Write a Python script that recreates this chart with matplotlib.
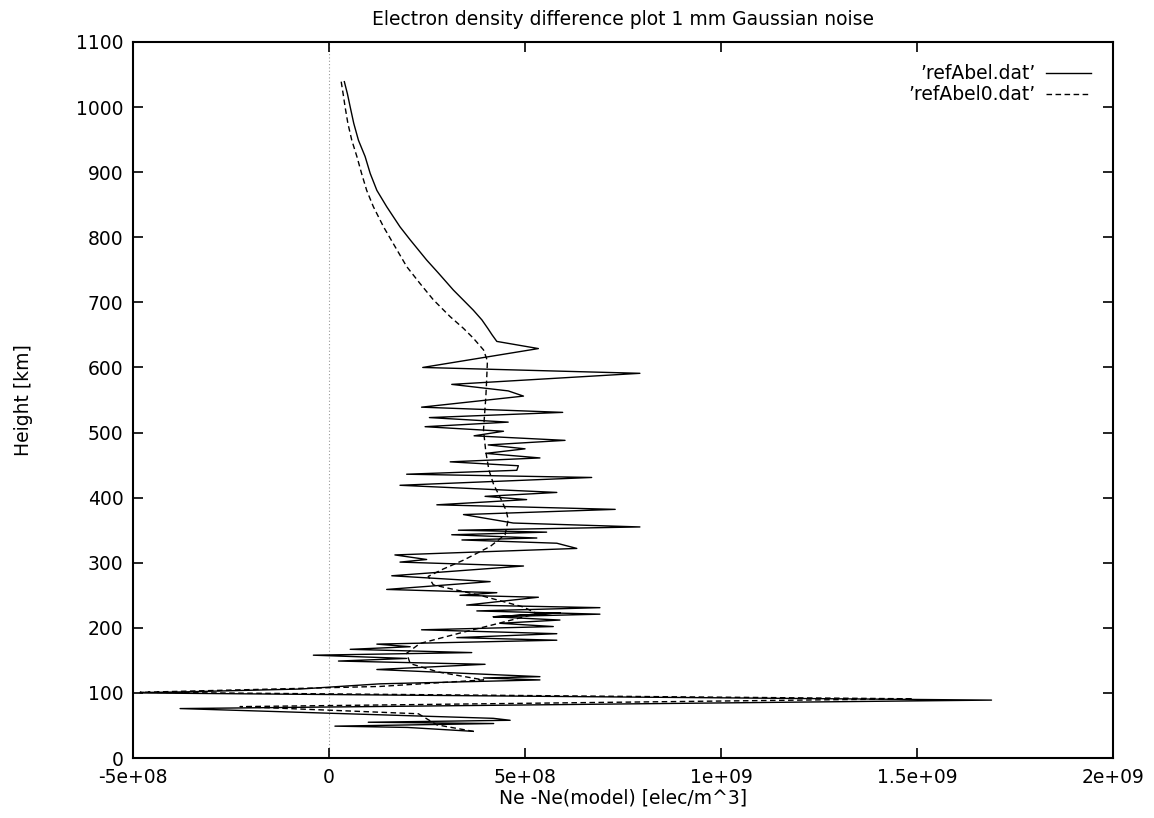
import numpy as np
import matplotlib.pyplot as plt

plt.rcParams['font.family'] = ['DejaVu Sans']

# refAbel.dat : Ne - Ne(model) [1e8 elec/m^3] vs height [km]
abel_diff = [0.39, 0.47, 0.54, 0.63, 0.75, 0.92, 1.05, 1.22, 1.47, 1.81, 2.07, 2.49,
             2.79, 3.17, 3.45, 3.68, 3.90, 4.05, 4.16, 4.28,
             5.34, 2.39, 7.93, 3.13, 4.57, 4.96, 2.36, 5.96, 2.56, 4.57, 2.45,
             4.45, 3.70, 6.02, 4.06, 5.00, 4.00, 5.38, 3.09, 4.83, 4.79, 1.98,
             6.70, 1.81, 5.81, 3.98, 5.04, 2.75, 7.30, 3.43, 4.70, 7.93, 3.30,
             5.55, 3.13, 5.30, 3.39, 5.81, 6.32, 1.68, 2.49, 1.81, 4.96, 1.60,
             4.11, 1.47, 4.28, 3.34, 5.34, 3.51, 6.91, 3.77, 6.91, 4.19, 5.89,
             4.19, 5.89, 4.36, 5.72, 2.36, 5.81, 3.26, 5.81, 1.22, 2.07, 0.54,
             3.64, -0.40, 1.98, 0.24, 3.98, 1.22, 5.38, 3.94, 5.38, 1.30, -0.74,
             -4.82, 16.9, -3.80, 4.19, 4.62, 1.00, 4.20, 0.15, 2.00, 3.68]
abel_height = [1039, 1020, 1000, 975, 949, 924, 898, 872, 847, 816, 796, 765,
               745, 719, 702, 688, 673, 660, 650, 640,
               629, 600, 591, 574, 564, 556, 539, 531, 523, 516, 509,
               502, 495, 488, 481, 475, 468, 461, 455, 449, 442, 436,
               431, 419, 408, 402, 397, 389, 382, 374, 361, 355, 350,
               347, 343, 338, 335, 330, 322, 312, 305, 301, 295, 280,
               271, 259, 254, 250, 247, 235, 231, 226, 221, 217, 223,
               217, 212, 207, 202, 197, 191, 185, 181, 175, 171, 167,
               162, 158, 153, 149, 144, 136, 125, 123, 120, 114, 106,
               100, 89, 76, 61, 58, 55, 53, 49, 47, 41]

# refAbel0.dat
abel0_diff = [0.31, 0.36, 0.41, 0.48, 0.58, 0.71, 0.83, 0.96, 1.13, 1.39, 1.68, 1.98,
              2.32, 2.66, 3.09, 3.43, 3.68, 3.94, 4.04, 4.02, 4.00, 3.97, 3.94,
              4.00, 4.08, 4.20, 4.36, 4.52, 4.57, 4.49, 4.11, 3.43, 2.90, 2.53,
              2.66, 3.85, 4.96, 5.30, 4.20, 3.34, 2.32, 1.98, 2.07, 2.80, 3.94,
              1.30, -4.82, 14.9, -2.27, 2.28, 2.75, 3.68]
abel0_height = [1039, 1020, 1000, 975, 949, 924, 898, 872, 847, 816, 786, 755,
                729, 704, 678, 660, 645, 627, 610, 580, 555, 530, 504,
                470, 442, 420, 401, 380, 366, 343, 325, 304, 290, 279,
                266, 250, 232, 222, 205, 192, 176, 161, 145, 132, 120,
                110, 101, 91, 79, 68, 51, 41]
abel_diff = np.array(abel_diff) * 1e8
abel0_diff = np.array(abel0_diff) * 1e8

x_ticks = [-5e8, 0, 5e8, 1e9, 1.5e9, 2e9]
x_labels = ['-5e+08', '0', '5e+08', '1e+09', '1.5e+09', '2e+09']
y_ticks = list(range(0, 1101, 100))

fs = 13.5
fig = plt.figure(figsize=(11.54, 8.18), dpi=100)
ax = fig.add_axes([0.1153, 0.0733, 0.8492, 0.8754])

ax.axvline(0, color='#999999', lw=0.8, ls=(0, (1, 2)), zorder=1)
ax.plot(abel_diff, abel_height, color='black', lw=1.0, label='\u2019refAbel.dat\u2019')
ax.plot(abel0_diff, abel0_height, color='black', lw=1.0, dashes=(4, 2.5),
        label='\u2019refAbel0.dat\u2019')

ax.set_xlim(-5e8, 2e9)
ax.set_ylim(0, 1100)
ax.set_xticks(x_ticks)
ax.set_xticklabels(x_labels)
ax.set_yticks(y_ticks)
ax.tick_params(direction='in', length=7, width=1.2, labelsize=fs,
               top=True, right=True, pad=7)
for spine in ax.spines.values():
    spine.set_linewidth(1.5)

ax.set_title('Electron density difference plot 1 mm Gaussian noise', fontsize=fs, pad=12)
ax.set_xlabel('Ne -Ne(model) [elec/m^3]', fontsize=fs, labelpad=1)
ax.set_ylabel('Height [km]', fontsize=fs, labelpad=31)

ax.legend(loc='upper right', frameon=False, markerfirst=False, fontsize=fs,
          handlelength=2.4, handletextpad=0.55, borderaxespad=0.8, labelspacing=0.1)

fig.savefig('out.png', dpi=100)
